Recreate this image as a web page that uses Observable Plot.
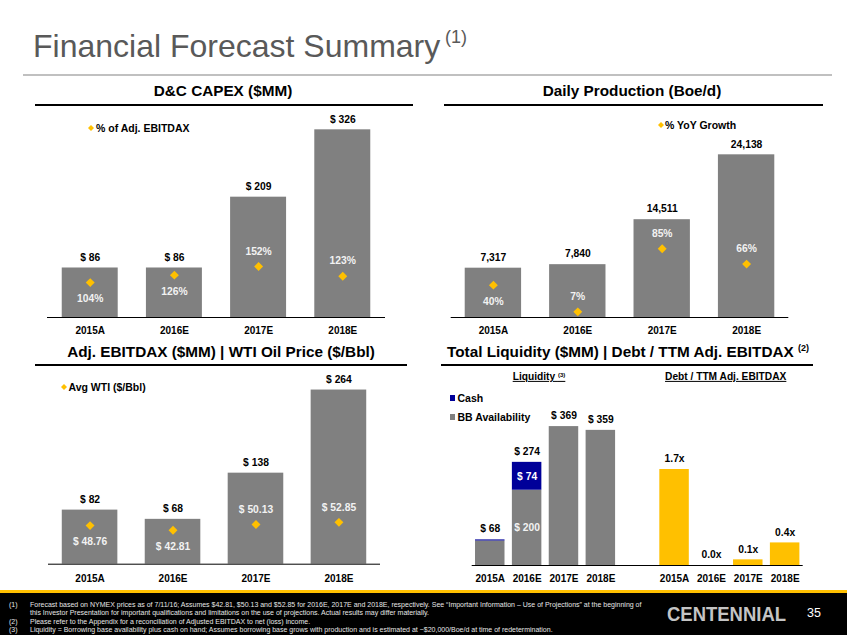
<!DOCTYPE html>
<html><head><meta charset="utf-8">
<script src="https://cdn.jsdelivr.net/npm/d3@7"></script>
<script src="https://cdn.jsdelivr.net/npm/@observablehq/plot@0.6"></script>
<style>
html,body{margin:0;padding:0;background:#fff;}
#slide{position:relative;width:847px;height:635px;overflow:hidden;background:#fff;font-family:"Liberation Sans",Arial,Helvetica,sans-serif;}
</style></head>
<body><div id="slide"></div>
<script>
// ---------- data ----------
const years = ["2015A", "2016E", "2017E", "2018E"];
const capex = [86, 86, 209, 326];                    // D&C CAPEX ($MM)
const capexPctEbitdax = [104, 126, 152, 123];        // % of Adj. EBITDAX
const production = [7317, 7840, 14511, 24138];       // Daily production (Boe/d)
const productionGrowth = [40, 7, 85, 66];            // % YoY growth
const ebitdax = [82, 68, 138, 264];                  // Adj. EBITDAX ($MM)
const wtiPrice = [48.76, 42.81, 50.13, 52.85];       // Avg WTI ($/Bbl)
const liquidityBB = [65, 200, 369, 359];             // BB availability ($MM)
const liquidityCash = [3, 74, 0, 0];                 // Cash ($MM)
const liquidityTotal = [68, 274, 369, 359];          // Total liquidity ($MM)
const debtToEbitdax = [1.7, 0.0, 0.1, 0.4];          // Debt / TTM Adj. EBITDAX (x)

// ---------- style ----------
const FONT = '"Liberation Sans", Arial, Helvetica, sans-serif';
const GRAY = "#808080", NAVY = "#000099", YELLOW = "#FFC000";
const slide = document.getElementById("slide");

function el(css, html) {
  const e = document.createElement("div");
  e.style.cssText = "position:absolute;" + css;
  if (html != null) e.innerHTML = html;
  slide.appendChild(e);
  return e;
}
function label(html, x, y, css = "", anchor = "middle") {
  const tx = anchor === "middle" ? "-50%" : anchor === "end" ? "-100%" : "0";
  return el(`left:${x}px;top:${y}px;transform:translate(${tx},-50%);white-space:nowrap;line-height:1;${css}`, html);
}
function place(svg, left, top) {
  svg.style.position = "absolute";
  svg.style.left = left + "px";
  svg.style.top = top + "px";
  slide.appendChild(svg);
}
function diamondIcon(x, y, s) {
  el(`left:${x - s / 2}px;top:${y - s / 2}px;width:${s}px;height:${s}px;`,
     `<svg width="${s}" height="${s}" style="display:block"><polygon points="${s/2},0 ${s},${s/2} ${s/2},${s} 0,${s/2}" fill="${YELLOW}"/></svg>`);
}

// ---------- header ----------
label("Financial Forecast Summary", 33, 45.5, "font-size:32px;color:#595959;", "start");
label("(1)", 445, 37, "font-size:18px;color:#595959;", "start");
el("left:23px;top:73.5px;width:809px;height:2px;background:#c0c0c0;");

// panel titles + rules
const TSTYLE = "font-size:15.3px;font-weight:bold;color:#000;";
label("D&amp;C CAPEX ($MM)", 223, 90.5, TSTYLE);
label("Daily Production (Boe/d)", 632, 90.5, TSTYLE);
label("Adj. EBITDAX ($MM) | WTI Oil Price ($/Bbl)", 221, 351.5, TSTYLE);
label('Total Liquidity ($MM) | Debt / TTM Adj. EBITDAX <span style="font-size:9px;position:relative;top:-6px;">(2)</span>', 628, 351.5, TSTYLE);
el("left:35px;top:104px;width:378px;height:2px;background:#000;");
el("left:444px;top:104px;width:379px;height:2px;background:#000;");
el("left:35px;top:364px;width:372px;height:2px;background:#000;");
el("left:441px;top:364px;width:372px;height:2px;background:#000;");

// ---------- bar + diamond panels ----------
function barPanel(o) {
  const k = o.barMax / o.secMax; // secondary axis mapped onto the bar axis
  const data = years.map((yr, i) => ({yr, v: o.values[i], s: o.sec[i], s2: o.sec[i] * k, above: o.above[i]}));
  const svg = Plot.plot({
    width: o.width, height: o.height,
    marginLeft: o.mLeft, marginRight: o.mRight, marginTop: o.mTop, marginBottom: o.mBottom,
    style: {fontFamily: FONT, background: "transparent", overflow: "visible", maxWidth: "none"},
    x: {type: "band", domain: years, paddingInner: o.pi, paddingOuter: o.po, round: false, axis: null},
    y: {domain: [0, o.barMax], axis: null},
    marks: [
      Plot.barY(data, {x: "yr", y: "v", fill: GRAY}),
      Plot.ruleY([0], {stroke: "#000", strokeWidth: 1}),
      Plot.text(data, {x: "yr", y: "v", text: d => o.fmt(d.v), dy: -10.5, fontSize: 10.3, fontWeight: "bold", fill: "#000"}),
      Plot.dot(data, {x: "yr", y: "s2", symbol: "diamond2", r: 4, fill: YELLOW}),
      Plot.text(data.filter(d => d.above), {x: "yr", y: "s2", text: d => o.secFmt(d.s), dy: -15, fontSize: 10.3, fontWeight: "bold", fill: "#f2f2f2"}),
      Plot.text(data.filter(d => !d.above), {x: "yr", y: "s2", text: d => o.secFmt(d.s), dy: 16.3, fontSize: 10.3, fontWeight: "bold", fill: "#f2f2f2"}),
      Plot.text(data, {x: "yr", y: () => 0, text: "yr", dy: o.yearDy, fontSize: 10, fontWeight: "bold", fill: "#000"})
    ]
  });
  place(svg, o.left, o.top);
}

barPanel({left: 0, top: 110, width: 420, height: 230, mLeft: 47, mRight: 35, mTop: 5.5, mBottom: 23,
  pi: 0.335, po: 0.175, values: capex, fmt: v => "$ " + v, sec: capexPctEbitdax, secFmt: v => v + "%",
  barMax: 350, secMax: 600, above: [false, false, true, true], yearDy: 13});

barPanel({left: 420, top: 110, width: 427, height: 230, mLeft: 30.7, mRight: 58.7, mTop: 4.8, mBottom: 23,
  pi: 0.332, po: 0.166, values: production, fmt: d3.format(","), sec: productionGrowth, secFmt: v => v + "%",
  barMax: 30000, secMax: 250, above: [false, true, true, true], yearDy: 13});

barPanel({left: 0, top: 340, width: 420, height: 250, mLeft: 48, mRight: 40, mTop: 25.8, mBottom: 26.3,
  pi: 0.33, po: 0.166, values: ebitdax, fmt: v => "$ " + v, sec: wtiPrice, secFmt: v => "$ " + v.toFixed(2),
  barMax: 300, secMax: 250, above: [false, false, true, true], yearDy: 14.6});

// legends for diamond panels
const LSTYLE = "font-size:10.5px;font-weight:bold;color:#000;";
diamondIcon(90.7, 127.7, 6); label("% of Adj. EBITDAX", 96, 127.7, LSTYLE, "start");
diamondIcon(660.7, 125, 6); label("% YoY Growth", 665, 125, LSTYLE, "start");
diamondIcon(64.3, 386.7, 6); label("Avg WTI ($/Bbl)", 68.5, 386.7, LSTYLE, "start");

// ---------- liquidity / leverage panel ----------
(function () {
  const liqMax = 450, debtMax = 3.0, k = liqMax / debtMax;
  const liqKeys = years.map(y => "Liquidity " + y);
  const debtKeys = years.map(y => "Debt " + y);
  const domain = [...liqKeys, "", ...debtKeys];
  const liq = years.map((yr, i) => ({key: liqKeys[i], yr, bb: liquidityBB[i], cash: liquidityCash[i], total: liquidityTotal[i]}));
  const debt = years.map((yr, i) => ({key: debtKeys[i], yr, r: debtToEbitdax[i], rs: debtToEbitdax[i] * k}));
  const split = liq.filter(d => d.cash >= 20);
  const svg = Plot.plot({
    width: 427, height: 250, marginLeft: 51.7, marginRight: 44.3, marginTop: 55.6, marginBottom: 25,
    style: {fontFamily: FONT, background: "transparent", overflow: "visible", maxWidth: "none"},
    x: {type: "band", domain, paddingInner: 0.2, paddingOuter: 0.09, round: false, axis: null},
    y: {domain: [0, liqMax], axis: null},
    marks: [
      Plot.barY(liq, {x: "key", y1: 0, y2: "bb", fill: GRAY}),
      Plot.barY(liq.filter(d => d.cash > 0), {x: "key", y1: "bb", y2: d => d.bb + d.cash, fill: NAVY}),
      Plot.barY(debt.filter(d => d.r > 0), {x: "key", y1: 0, y2: "rs", fill: YELLOW}),
      Plot.ruleY([0], {stroke: "#000", strokeWidth: 1}),
      Plot.text(liq, {x: "key", y: d => d.bb + d.cash, text: d => "$ " + d.total, dy: -10.8, fontSize: 10.3, fontWeight: "bold", fill: "#000"}),
      Plot.text(split, {x: "key", y: d => d.bb + d.cash / 2, text: d => "$ " + d.cash, fontSize: 10.3, fontWeight: "bold", fill: "#fff"}),
      Plot.text(split, {x: "key", y: d => d.bb / 2, text: d => "$ " + d.bb, fontSize: 10.3, fontWeight: "bold", fill: "#f2f2f2"}),
      Plot.text(debt, {x: "key", y: "rs", text: d => d.r.toFixed(1) + "x", dy: -10.6, fontSize: 10.3, fontWeight: "bold", fill: "#000"}),
      Plot.text([...liq, ...debt], {x: "key", y: () => 0, text: "yr", dy: 13.3, fontSize: 10, fontWeight: "bold", fill: "#000"})
    ]
  });
  place(svg, 420, 340);
})();

const SUB = "font-size:10.2px;font-weight:bold;color:#000;text-decoration:underline;";
label('Liquidity <span style="font-size:6px;position:relative;top:-3px;">(3)</span>', 539, 377.3, SUB);
label("Debt / TTM Adj. EBITDAX", 725.7, 377.3, SUB);
el(`left:449.5px;top:395px;width:5.5px;height:5.5px;background:${NAVY};`);
label("Cash", 457.5, 397.7, "font-size:10.5px;font-weight:bold;color:#000;", "start");
el(`left:449.5px;top:414px;width:5.5px;height:5.5px;background:${GRAY};`);
label("BB Availability", 457.5, 416.7, "font-size:10.5px;font-weight:bold;color:#000;", "start");

// ---------- footer ----------
el(`left:0;top:590px;width:847px;height:2.5px;background:${YELLOW};`);
el("left:0;top:592.5px;width:847px;height:42.5px;background:#000;");
const FN = "font-size:7px;color:#e6e6e6;";
const notes = [
  ["(1)", "Forecast based on NYMEX prices as of 7/11/16; Assumes $42.81, $50.13 and $52.85 for 2016E, 2017E and 2018E, respectively. See \u201cImportant Information \u2013 Use of Projections\u201d at the beginning of"],
  ["", "this Investor Presentation for important qualifications and limitations on the use of projections. Actual results may differ materially."],
  ["(2)", "Please refer to the Appendix for a reconciliation of Adjusted EBITDAX to net (loss) income."],
  ["(3)", "Liquidity = Borrowing base availability plus cash on hand; Assumes borrowing base grows with production and is estimated at ~$20,000/Boe/d at time of redetermination."]
];
notes.forEach((n, i) => {
  const y = 603.5 + i * 8.5;
  if (n[0]) label(n[0], 9, y, FN, "start");
  label(n[1], 30, y, FN, "start");
});
el("left:667px;top:597px;width:130px;height:32px;overflow:visible;",
   '<svg width="130" height="32" style="display:block;overflow:visible"><text x="0" y="24" font-family=\'"Liberation Sans", Arial, sans-serif\' font-size="21" font-weight="bold" fill="#c4c4c4" textLength="119" lengthAdjust="spacingAndGlyphs">CENTENNIAL</text></svg>');
label("35", 807, 613, "font-size:12.5px;color:#fff;", "start");
</script>
</body></html>
